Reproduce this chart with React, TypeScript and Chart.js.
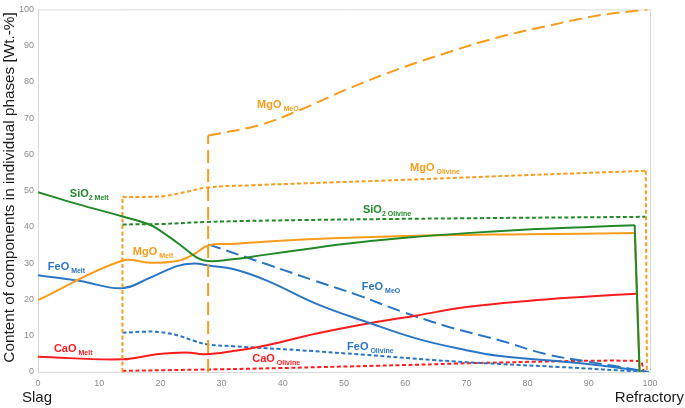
import React, { useEffect, useRef } from 'react';
import { Chart, registerables } from 'chart.js';
Chart.register(...registerables);

const FONT = '"Liberation Sans", Arial, Helvetica, sans-serif';

const GREEN = '#21892a';
const ORANGE = '#f89c1c';
const BLUE = '#2a76c4';
const RED = '#fb1d1d';

// ---- data (x = position from slag to refractory, y = Wt.-%) ----
const sio2MeltX = [0, 6.5, 13.8, 18.3, 20, 23.2, 25.9, 27.7, 31.4, 37, 44.3, 50, 60, 70, 80, 90, 97.5];
const sio2MeltY = [49.6, 46.3, 42.9, 40.6, 38.9, 35.1, 31.6, 30.6, 31, 32.3, 34, 35.3, 37, 38.3, 39.3, 40, 40.5];
const sio2MeltDropX = [97.5, 98.3];
const sio2MeltDropY = [40.5, 0];

const sio2OlivineX = [13.8, 20, 27.7, 43, 70, 99.3];
const sio2OlivineY = [40.7, 40.8, 41.4, 41.9, 42.4, 42.8];

const mgoMeltX = [0, 13.7, 18.3, 22.7, 25.4, 27.8, 31.4, 44.3, 60, 80, 97.5];
const mgoMeltY = [19.8, 30.7, 30.1, 30.6, 32.4, 34.9, 35.3, 36.6, 37.5, 38, 38.3];
const mgoMeltDropX = [97.5, 98.3];
const mgoMeltDropY = [38.3, 0];

const mgoOlivineRiseX = [13.8, 13.8];
const mgoOlivineRiseY = [0, 48.3];
const mgoOlivineX = [13.8, 18.5, 21, 24, 27.7, 35, 43, 60, 80, 99.3];
const mgoOlivineY = [48.3, 48.3, 48.6, 49.6, 50.9, 51.5, 52, 53, 54.3, 55.5];
const mgoOlivineDropX = [99.3, 99.5];
const mgoOlivineDropY = [55.5, 0];

const mgoMeoRiseX = [27.8, 27.8];
const mgoMeoRiseY = [0, 65.2];
const mgoMeoX = [27.8, 36.2, 42.7, 50.8, 59, 67.1, 75.2, 83.4, 91.5, 99.6];
const mgoMeoY = [65.2, 68.1, 72.2, 78.2, 83.6, 88.2, 92.3, 95.5, 98.3, 100];

const feoMeltX = [0, 6.9, 13.7, 18.3, 22.7, 25.5, 28.1, 31.9, 37.4, 45.5, 53.7, 61.9, 70, 75.5, 88.6, 97.8, 99.5];
const feoMeltY = [26.7, 25.1, 23.1, 26, 29.2, 29.9, 29.3, 28.4, 25.2, 18.8, 13.8, 9.2, 6, 4.4, 2.4, 0.5, 0];

const feoMeoX = [27.8, 37.4, 45, 52.6, 59.2, 67, 75.5, 83.1, 90, 94, 99.8];
const feoMeoY = [35.2, 29.7, 25.3, 21, 16.8, 12.5, 8.7, 4.9, 2.8, 1.7, 0];

const feoOlivineX = [13.8, 17, 20, 23, 25.5, 27.7, 31.9, 42.8, 53.7, 64.6, 75.5, 85, 99.5];
const feoOlivineY = [10.8, 11.1, 11, 10, 8.6, 7.6, 7.1, 6, 4.7, 3.3, 2.2, 1.4, 0];

const caoMeltX = [0, 13.8, 19.4, 24.2, 27.2, 31.9, 37.4, 45.5, 53.7, 61.9, 70, 80, 90, 97.8];
const caoMeltY = [4.2, 3.5, 4.9, 5.4, 4.9, 5.8, 7.4, 10.6, 13.3, 15.6, 17.9, 19.6, 20.8, 21.6];

const caoOlivineX = [13.8, 37.4, 64, 72.2, 98.4, 99];
const caoOlivineY = [0.3, 1, 2.1, 2.5, 3, 0];

// ---- annotation labels ----
const labelMain = ['SiO', 'FeO', 'CaO', 'MgO', 'MgO', 'MgO', 'SiO', 'FeO', 'FeO', 'CaO'];
const labelSub = ['2 Melt', ' Melt', ' Melt', ' Melt', ' MeO', ' Olivine', '2 Olivine', ' MeO', ' Olivine', ' Olivine'];
const labelX = [5.2, 1.6, 2.6, 15.5, 35.8, 60.8, 53.1, 52.9, 50.5, 35.0];
const labelY = [49.3, 29.2, 6.6, 33.3, 73.9, 56.5, 45.0, 23.7, 7.1, 3.8];
const labelColor = [GREEN, BLUE, RED, ORANGE, ORANGE, ORANGE, GREEN, BLUE, BLUE, RED];

const yTitle = 'Content of components in individual phases [Wt.-%]';
const leftEndLabel = 'Slag';
const rightEndLabel = 'Refractory';

const zip = (xs: number[], ys: number[]) => xs.map((x, i) => ({ x, y: ys[i] }));

const SHORT = [4, 2.5];
const LONG = [13, 6];

function ds(xs: number[], ys: number[], color: string, dash: number[], tension = 0.4) {
  return {
    data: zip(xs, ys),
    borderColor: color,
    backgroundColor: color,
    borderWidth: 2,
    borderDash: dash,
    pointRadius: 0,
    pointHoverRadius: 0,
    tension,
    fill: false,
    borderCapStyle: 'butt' as const,
    borderJoinStyle: 'round' as const,
  };
}

const decorPlugin = {
  id: 'decor',
  beforeDatasetsDraw(chart: any) {
    const { ctx, chartArea } = chart;
    ctx.save();
    ctx.strokeStyle = '#d9d9d9';
    ctx.lineWidth = 1;
    ctx.beginPath();
    ctx.moveTo(chartArea.left, chartArea.top + 0.5);
    ctx.lineTo(chartArea.right + 0.5, chartArea.top + 0.5);
    ctx.lineTo(chartArea.right + 0.5, chartArea.bottom);
    ctx.stroke();
    ctx.restore();
  },
  afterDatasetsDraw(chart: any) {
    const { ctx } = chart;
    const xs = chart.scales.x;
    const ys = chart.scales.y;
    ctx.save();
    ctx.textAlign = 'left';
    ctx.textBaseline = 'alphabetic';
    for (let i = 0; i < labelMain.length; i++) {
      const px = xs.getPixelForValue(labelX[i]);
      const py = ys.getPixelForValue(labelY[i]);
      ctx.fillStyle = labelColor[i];
      ctx.font = `bold 11px ${FONT}`;
      const base = py + 4;
      ctx.fillText(labelMain[i], px, base);
      const w = ctx.measureText(labelMain[i]).width;
      ctx.font = `bold 7px ${FONT}`;
      ctx.fillText(labelSub[i], px + w, base + 3);
    }
    ctx.restore();
  },
  afterDraw(chart: any) {
    const { ctx } = chart;
    ctx.save();
    ctx.fillStyle = '#1a1a1a';
    ctx.font = `15.3px ${FONT}`;
    ctx.textBaseline = 'middle';
    ctx.textAlign = 'center';
    ctx.translate(10, 187.5);
    ctx.rotate(-Math.PI / 2);
    ctx.fillText(yTitle, 0, 0);
    ctx.restore();
    ctx.save();
    ctx.fillStyle = '#1a1a1a';
    ctx.font = `15px ${FONT}`;
    ctx.textBaseline = 'alphabetic';
    ctx.textAlign = 'left';
    ctx.fillText(leftEndLabel, 22, 402);
    ctx.textAlign = 'right';
    ctx.fillText(rightEndLabel, 684, 402);
    ctx.restore();
  },
};

export default function App() {
  const ref = useRef<HTMLCanvasElement>(null);
  useEffect(() => {
    const canvas = ref.current;
    if (!canvas) return;
    const chart = new Chart(canvas, {
      type: 'line',
      data: {
        datasets: [
          ds(sio2MeltX, sio2MeltY, GREEN, []),
          ds(sio2MeltDropX, sio2MeltDropY, GREEN, [], 0),
          ds(mgoOlivineDropX, mgoOlivineDropY, ORANGE, SHORT, 0),
          ds(mgoOlivineRiseX, mgoOlivineRiseY, ORANGE, SHORT, 0),
          ds(mgoMeoRiseX, mgoMeoRiseY, ORANGE, LONG, 0),
          ds(mgoMeltX, mgoMeltY, ORANGE, []),
          ds(mgoMeltDropX, mgoMeltDropY, ORANGE, [], 0),
          ds(feoMeltX, feoMeltY, BLUE, []),
          ds(caoMeltX, caoMeltY, RED, []),
          ds(feoMeoX, feoMeoY, BLUE, LONG),
          ds(mgoMeoX, mgoMeoY, ORANGE, LONG),
          ds(mgoOlivineX, mgoOlivineY, ORANGE, SHORT),
          ds(sio2OlivineX, sio2OlivineY, GREEN, SHORT),
          ds(feoOlivineX, feoOlivineY, BLUE, SHORT),
          ds(caoOlivineX, caoOlivineY, RED, SHORT, 0.2),
        ] as any,
      },
      options: {
        responsive: false,
        animation: false,
        devicePixelRatio: 1,
        events: [],
        layout: { padding: { left: 8, right: 35, top: 5.5, bottom: 0 } },
        plugins: {
          legend: { display: false },
          tooltip: { enabled: false },
        },
        scales: {
          x: {
            type: 'linear',
            min: 0,
            max: 100,
            ticks: {
              stepSize: 10,
              color: '#8c8c8c',
              font: { size: 9, family: FONT },
              padding: 6,
              maxRotation: 0,
              autoSkip: false,
            },
            grid: { display: false, drawTicks: false },
            border: { display: true, color: '#d9d9d9', width: 1 },
            afterFit: (s: any) => {
              s.height = 36;
            },
          },
          y: {
            type: 'linear',
            min: 0,
            max: 100,
            ticks: {
              stepSize: 10,
              color: '#8c8c8c',
              font: { size: 9, family: FONT },
              padding: 4,
            },
            grid: { display: false, drawTicks: false },
            border: { display: true, color: '#d9d9d9', width: 1 },
            afterFit: (s: any) => {
              s.width = 30;
            },
          },
        },
      } as any,
      plugins: [decorPlugin],
    });
    return () => chart.destroy();
  }, []);
  return (
    <div style={{ position: 'fixed', left: 0, top: 0, width: 685, height: 408, background: '#fff' }}>
      <canvas ref={ref} width={685} height={408} style={{ width: 685, height: 408, display: 'block' }} />
    </div>
  );
}
